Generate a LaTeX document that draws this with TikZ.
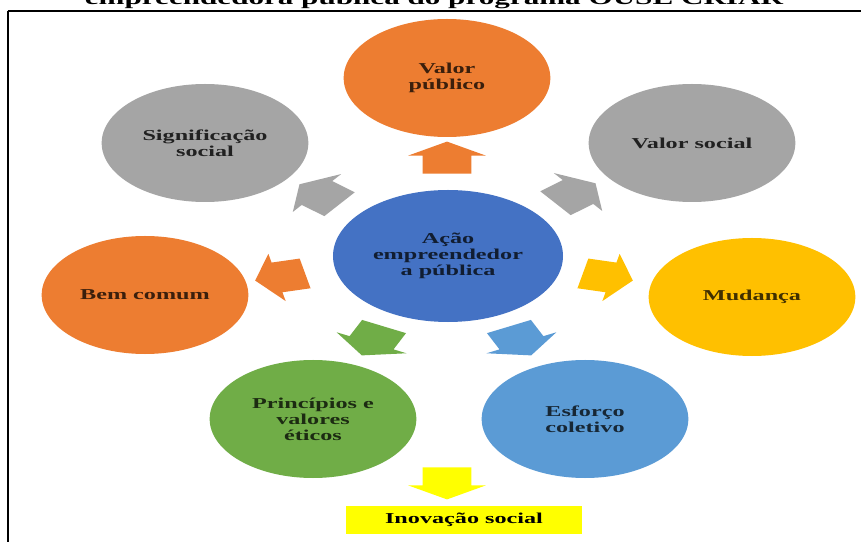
\documentclass[tikz,border=0pt]{standalone}
\usepackage{fontspec}
\newfontfamily\diagfont{Liberation Serif}[FakeStretch=1.6]
\usetikzlibrary{shapes.geometric, shapes.arrows}

\definecolor{cOrange}{HTML}{ED7D31}
\definecolor{cGray}{HTML}{A5A5A5}
\definecolor{cBlue}{HTML}{4472C4}
\definecolor{cGold}{HTML}{FFC000}
\definecolor{cSky}{HTML}{5B9BD5}
\definecolor{cGreen}{HTML}{70AD47}
\definecolor{cYellow}{HTML}{FFFF00}

\tikzset{
  lbl/.style={font=\diagfont\bfseries\fontsize{12.9}{13.7}\selectfont, align=center},
  bubble/.style={ellipse, lbl, inner sep=0pt, minimum width=6.2cm, minimum height=3.54cm},
  blockarr/.style={single arrow, draw=none, xscale=1.6, inner xsep=0pt, inner ysep=0.45cm,
    minimum height=0.96cm, minimum width=1.44cm, single arrow head extend=0.27cm,
    single arrow tip angle=120}
}

\begin{document}
\begin{tikzpicture}[x=0.03cm, y=-0.03cm]
    \useasboundingbox (0,0) rectangle (861,542);
    \fill[white] (0,0) rectangle (861,542);

    % frame and cut title
    \draw[line width=0.06cm] (7.5,11) -- (7.5,560) (7.5,11) -- (880,11);
    \node[font=\diagfont\bfseries\fontsize{16.6}{18}\selectfont, anchor=base] (title) at (434,5)
      {empreendedora pública do programa OUSE CRIAR};

    % bubbles
    \node[bubble, fill=cBlue, text=cBlue!25!black, minimum width=6.9cm, minimum height=3.96cm]
      (acao) at (448,256) {Ação\\empreendedor\\a pública};
    \node[bubble, fill=cOrange, text=cOrange!25!black] (pub) at (447,78) {Valor\\público};
    \node[bubble, fill=cGray, text=cGray!20!black] (signif) at (205,143) {Significação\\social};
    \node[bubble, fill=cGray, text=cGray!20!black] (soc) at (692,143) {Valor social};
    \node[bubble, fill=cOrange, text=cOrange!25!black] (bem) at (145,295) {Bem comum};
    \node[bubble, fill=cGold, text=cGold!25!black] (mud) at (752,297) {Mudança};
    \node[bubble, fill=cGreen, text=cGreen!25!black] (princ) at (313,419) {Princípios e\\valores\\éticos};
    \node[bubble, fill=cSky, text=cSky!25!black] (esf) at (585,419) {Esforço\\coletivo};

    % arrows
    \node[blockarr, fill=cOrange, rotate=90] (arrpub) at (447,162) {};
    \node[blockarr, fill=cGray, rotate=141.4] (arrsig) at (325,197) {};
    \node[blockarr, fill=cGray, rotate=38.6] (arrsoc) at (570,196) {};
    \node[blockarr, fill=cOrange, rotate=192.9] (arrbem) at (287,276) {};
    \node[blockarr, fill=cGold, rotate=-12.9] (arrmud) at (601,276) {};
    \node[blockarr, fill=cGreen, rotate=244.3] (arrprinc) at (376,337) {};
    \node[blockarr, fill=cSky, rotate=-64.3] (arresf) at (517,337) {};
    \node[blockarr, fill=cYellow, rotate=-90] (arrinov) at (447,479) {};

    \node[lbl, fill=cYellow, text=black, minimum width=7.05cm, minimum height=0.84cm, inner sep=0pt]
      (inov) at (464,520) {Inovação social};
\end{tikzpicture}
\end{document}
